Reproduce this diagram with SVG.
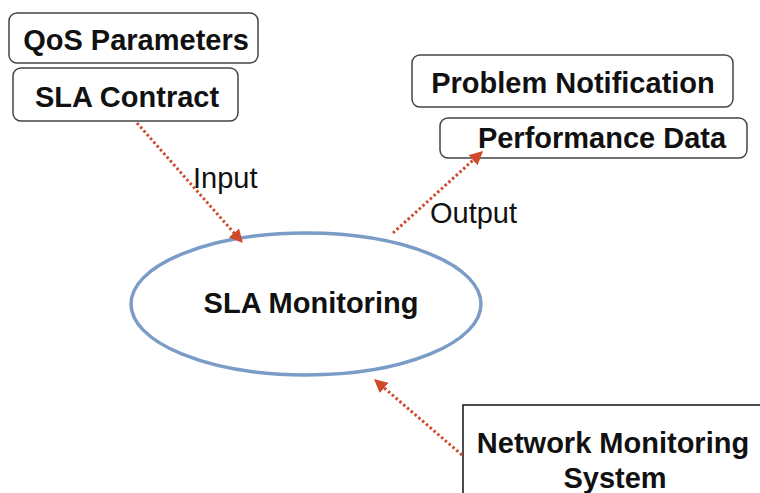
<svg xmlns="http://www.w3.org/2000/svg" width="760" height="493" viewBox="0 0 760 493">
<style>
.box{fill:#fff;stroke:#444;stroke-width:1.5}
.lbl{font-family:"Liberation Sans",Arial,sans-serif;font-weight:bold;font-size:29px;fill:#111;text-anchor:middle}
.elbl{font-family:"Liberation Sans",Arial,sans-serif;font-size:29px;fill:#111}
.conn{fill:none;stroke:#d0492a;stroke-width:3;stroke-dasharray:2.5 2.5}
</style>
<defs>
<marker id="ah" viewBox="0 0 10 10" refX="9" refY="5" markerWidth="4.5" markerHeight="4.5" orient="auto" markerUnits="strokeWidth">
<path d="M0,0 L10,5 L0,10 z" fill="#d0492a"/>
</marker>
</defs>
<rect width="760" height="493" fill="#fff"/>
<g id="qos">
<rect class="box" x="9" y="13" width="249" height="50" rx="8"/>
<text class="lbl" x="136" y="50">QoS Parameters</text>
</g>
<g id="sla-contract">
<rect class="box" x="13" y="68" width="225" height="53" rx="8"/>
<text class="lbl" x="127" y="107">SLA Contract</text>
</g>
<g id="problem">
<rect class="box" x="412" y="55" width="321" height="52" rx="8"/>
<text class="lbl" x="573" y="93">Problem Notification</text>
</g>
<g id="performance">
<rect class="box" x="440" y="118" width="307" height="40" rx="8"/>
<text class="lbl" x="602" y="148">Performance Data</text>
</g>
<g id="sla-monitoring">
<ellipse cx="306" cy="304" rx="175" ry="71" fill="#fff" stroke="#7a9cc6" stroke-width="3.5"/>
<text class="lbl" x="311" y="313">SLA Monitoring</text>
</g>
<g id="nms">
<rect x="463" y="405" width="310" height="100" fill="#fff" stroke="#111" stroke-width="1.5"/>
<text class="lbl" x="613" y="453">Network Monitoring</text>
<text class="lbl" x="615" y="488">System</text>
</g>
<g id="connectors">
<line class="conn" x1="137" y1="123" x2="242" y2="242" marker-end="url(#ah)"/>
<line class="conn" x1="393" y1="233" x2="482" y2="152" marker-end="url(#ah)"/>
<line class="conn" x1="462" y1="455" x2="375" y2="380" marker-end="url(#ah)"/>
<text class="elbl" x="193" y="188">Input</text>
<text class="elbl" x="430" y="223">Output</text>
</g>
</svg>
